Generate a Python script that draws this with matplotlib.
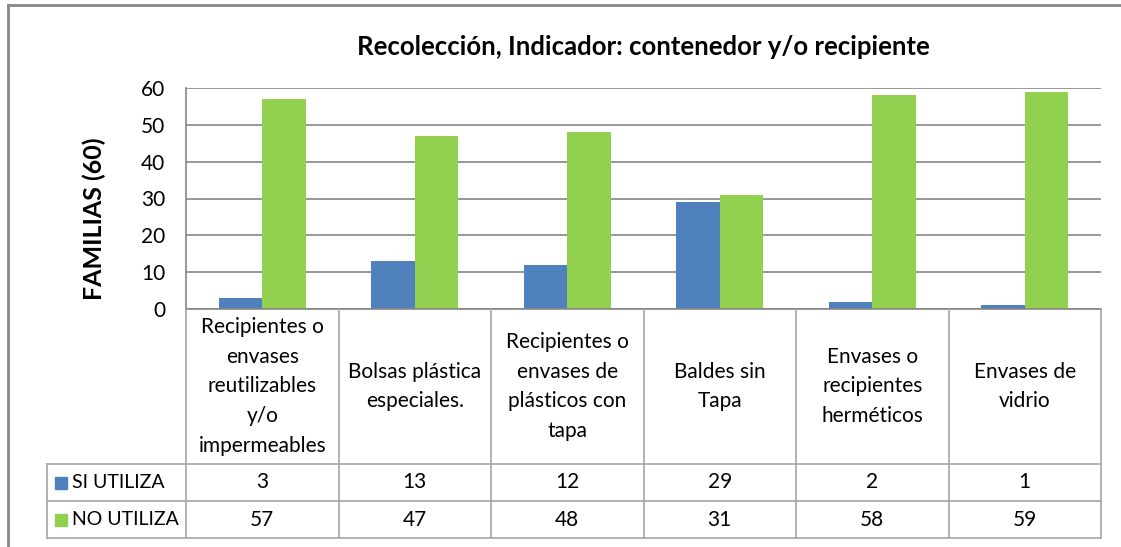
import matplotlib
matplotlib.use("Agg")
import matplotlib.pyplot as plt
from matplotlib.lines import Line2D
from matplotlib.patches import Rectangle

# ---- data ----
categories = [
    "Recipientes o\nenvases\nreutilizables\ny/o\nimpermeables",
    "Bolsas plástica\nespeciales.",
    "Recipientes o\nenvases de\nplásticos con\ntapa",
    "Baldes sin\nTapa",
    "Envases o\nrecipientes\nherméticos",
    "Envases de\nvidrio",
]
series_names = ["SI UTILIZA", "NO UTILIZA"]
si_utiliza = [3, 13, 12, 29, 2, 1]
no_utiliza = [57, 47, 48, 31, 58, 59]
yticks = [0, 10, 20, 30, 40, 50, 60]
title = "Recolección, Indicador: contenedor y/o recipiente"
ylabel = "FAMILIAS (60)"

# ---- style ----
W, H = 1121, 547
BLUE = "#4F81BD"
GREEN = "#92D050"
GRID = "#868686"
TBL = "#A6A6A6"
TXT = "#000000"
plt.rcParams["font.family"] = ["Lato", "DejaVu Sans"]
FS = 15

fig = plt.figure(figsize=(W / 100, H / 100), dpi=100)

def fx(px):
    return px / W

def fy(py):
    return 1 - py / H

# plot area in pixels
L, T, R, B = 186, 88, 1101, 309
ax = fig.add_axes([fx(L), fy(B), fx(R - L), (B - T) / H])

n = len(categories)
x = list(range(n))
bw = 0.285
ax.bar([i - bw / 2 for i in x], si_utiliza, width=bw, color=BLUE, zorder=3)
ax.bar([i + bw / 2 for i in x], no_utiliza, width=bw, color=GREEN, zorder=3)
ax.set_xlim(-0.5, n - 0.5)
ax.set_ylim(0, 60)
ax.set_yticks(yticks)
ax.set_yticklabels([str(v) for v in yticks], fontsize=FS, color=TXT)
ax.tick_params(axis="y", length=0, pad=15)
ax.set_xticks([])
ax.yaxis.grid(True, color=GRID, linewidth=1.2, zorder=0)
for s in ["top", "right", "bottom"]:
    ax.spines[s].set_visible(False)
ax.spines["left"].set_color(GRID)
ax.spines["left"].set_linewidth(1.2)

# title & y label
fig.text(fx(643), fy(47), title, ha="center", va="center", fontsize=18.5,
         fontweight="bold", color=TXT)
fig.text(fx(94), fy(219), ylabel, ha="center", va="center", rotation=90,
         fontsize=18, fontweight="bold", color=TXT)

# ---- data table ----
row_cat = (B, 464)
row1 = (464, 501)
row2 = (501, 538)
tbl_left = 47
cw = (R - L) / n

def hline(y, x0, x1, color=TBL, lw=1.2):
    fig.add_artist(Line2D([fx(x0), fx(x1)], [fy(y), fy(y)], color=color,
                          linewidth=lw, transform=fig.transFigure))

def vline(xp, y0, y1, color=TBL, lw=1.2):
    fig.add_artist(Line2D([fx(xp), fx(xp)], [fy(y0), fy(y1)], color=color,
                          linewidth=lw, transform=fig.transFigure))

hline(B, L, R, color=GRID)
hline(row1[0], tbl_left, R)
hline(row2[0], tbl_left, R)
hline(row2[1], tbl_left, R)
for k in range(n + 1):
    vline(L + k * cw, B, row2[1])
vline(tbl_left, row1[0], row2[1])

for i, cat in enumerate(categories):
    cx = L + (i + 0.5) * cw
    fig.text(fx(cx), fy((row_cat[0] + row_cat[1]) / 2), cat, ha="center",
             va="center", fontsize=FS, color=TXT, linespacing=1.6)
    fig.text(fx(cx), fy(sum(row1) / 2), str(si_utiliza[i]), ha="center",
             va="center", fontsize=FS, color=TXT)
    fig.text(fx(cx), fy(sum(row2) / 2), str(no_utiliza[i]), ha="center",
             va="center", fontsize=FS, color=TXT)

for (r0, r1), name, col in [(row1, series_names[0], BLUE),
                            (row2, series_names[1], GREEN)]:
    cy = (r0 + r1) / 2
    fig.add_artist(Rectangle((fx(55), fy(cy + 6)), fx(12), 12 / H,
                             color=col, transform=fig.transFigure))
    fig.text(fx(72), fy(cy), name, ha="left", va="center", fontsize=14,
             color=TXT)

# chart outer border (top and left visible)
hline(5, 8, W, color=GRID, lw=2)
vline(8, 5, H, color=GRID, lw=2)

fig.savefig("out.png", dpi=100, facecolor="white")
